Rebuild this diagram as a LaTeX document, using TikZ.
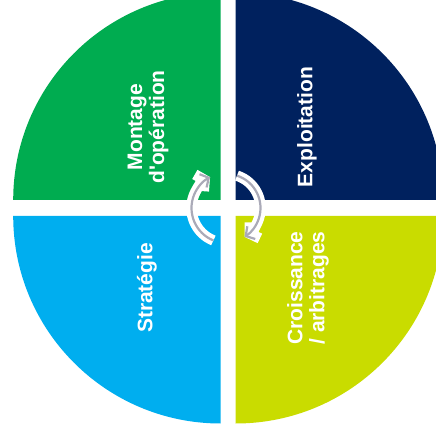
\documentclass[tikz,border=0pt]{standalone}
\usepackage{fontspec}
\setmainfont{Liberation Sans}[Ligatures=TeXOff]
\usetikzlibrary{arrows.meta}
\definecolor{qgreen}{RGB}{0,172,80}
\definecolor{qnavy}{RGB}{0,33,94}
\definecolor{qblue}{RGB}{0,174,239}
\definecolor{qlime}{RGB}{201,220,0}
\definecolor{arrowgray}{RGB}{170,170,184}
\begin{document}
\begin{tikzpicture}[x=1pt,y=1pt,
  lbl/.style={text=white, font=\fontsize{21}{22}\selectfont\bfseries, rotate=90, align=center, inner sep=0pt},
  cyclewhite/.style={white, line width=10.5pt, -{Straight Barb[length=6pt,width=19pt]}},
  cyclegray/.style={arrowgray, line width=2.2pt, -{Straight Barb[length=6.5pt,width=15pt]}}]
\useasboundingbox (0,0) rectangle (436,434);
\clip (0,0) rectangle (436,434);
% quadrants
\fill[qgreen] (220.7,234) -- (13.2,234) arc[start angle=180, end angle=90, radius=207.5] -- cycle;
\fill[qnavy] (235.7,234) -- (235.7,441.5) arc[start angle=90, end angle=0, radius=207.5] -- cycle;
\fill[qblue] (220.7,218) -- (220.7,10.5) arc[start angle=270, end angle=180, radius=207.5] -- cycle;
\fill[qlime] (235.7,218) -- (443.2,218) arc[start angle=0, end angle=-90, radius=207.5] -- cycle;
% labels
\node[lbl] (montage) at (148,307) {Montage\\d'opération};
\node[lbl] (exploit) at (307,307) {Exploitation};
\node[lbl] (strat) at (147,146) {Stratégie};
\node[lbl] (crois) at (308,146) {Croissance\\/ arbitrages};
% cycle arrows
\coordinate (c) at (226.5,226);
\draw[cyclewhite] (c) ++(248:35) arc[start angle=248, end angle=118, radius=35];
\draw[cyclegray] (c) ++(248:35) arc[start angle=248, end angle=118, radius=35];
\draw[cyclewhite] (c) ++(72:34) arc[start angle=72, end angle=-58, radius=34];
\draw[cyclegray] (c) ++(72:34) arc[start angle=72, end angle=-58, radius=34];
\end{tikzpicture}
\end{document}
